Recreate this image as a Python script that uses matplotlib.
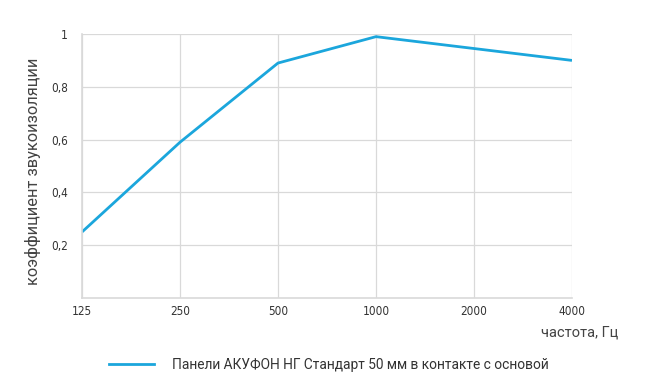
import matplotlib
matplotlib.use('Agg')
import matplotlib.pyplot as plt
from matplotlib.lines import Line2D
from matplotlib import font_manager

freqs = ['125', '250', '500', '1000', '2000', '4000']
alpha = [0.25, 0.59, 0.89, 0.99, 0.945, 0.90]
yticks = [0.2, 0.4, 0.6, 0.8, 1.0]
ylabels = ['0,2', '0,4', '0,6', '0,8', '1']

line_color = '#1ba6dc'
grid_color = '#d9d9d9'

# narrow font for tick labels if one is around
names = {f.name for f in font_manager.fontManager.ttflist}
tick_prop = dict(family='DejaVu Sans', stretch='condensed', fontsize=8.5, color='#333333')
if 'Liberation Sans Narrow' in names:
    tick_prop = dict(family='Liberation Sans Narrow', fontsize=9.5, color='#333333')

fig = plt.figure(figsize=(6.58, 3.8), dpi=100)
ax = fig.add_axes([0.1246, 0.2158, 0.7447, 0.6947])

x = list(range(len(freqs)))
ax.plot(x, alpha, color=line_color, lw=2, solid_capstyle='butt')

ax.set_xlim(0, len(freqs) - 1)
ax.set_ylim(0, 1)
ax.set_xticks(x)
ax.set_xticklabels(freqs, **tick_prop)
ax.set_yticks(yticks)
ax.set_yticklabels(ylabels, **tick_prop)
ax.tick_params(length=0, pad=10)
ax.tick_params(axis='x', pad=5)

ax.grid(True, color=grid_color, lw=0.9)
ax.set_axisbelow(True)
for side in ['top', 'right']:
    ax.spines[side].set_visible(False)
for side in ['left', 'bottom']:
    ax.spines[side].set_color(grid_color)
    ax.spines[side].set_linewidth(1.2)

fig.text(0.05, 0.55, 'коэффициент звукоизоляции', rotation=90, ha='center', va='center',
         fontsize=11.8, family='Roboto', color='#444444')
fig.text(0.94, 0.125, 'частота, Гц', ha='right', va='center',
         fontsize=10.5, family='Roboto', color='#444444')

handle = Line2D([], [], color=line_color, lw=2)
fig.legend([handle], ['Панели АКУФОН НГ Стандарт 50 мм в контакте с основой'],
           loc='center left', bbox_to_anchor=(0.147, 0.04), frameon=False,
           handlelength=3.3, handletextpad=1.3,
           prop={'family': 'Roboto', 'size': 9.9})
for t in fig.legends[0].get_texts():
    t.set_color('#333333')

fig.savefig('out.png', dpi=100)
